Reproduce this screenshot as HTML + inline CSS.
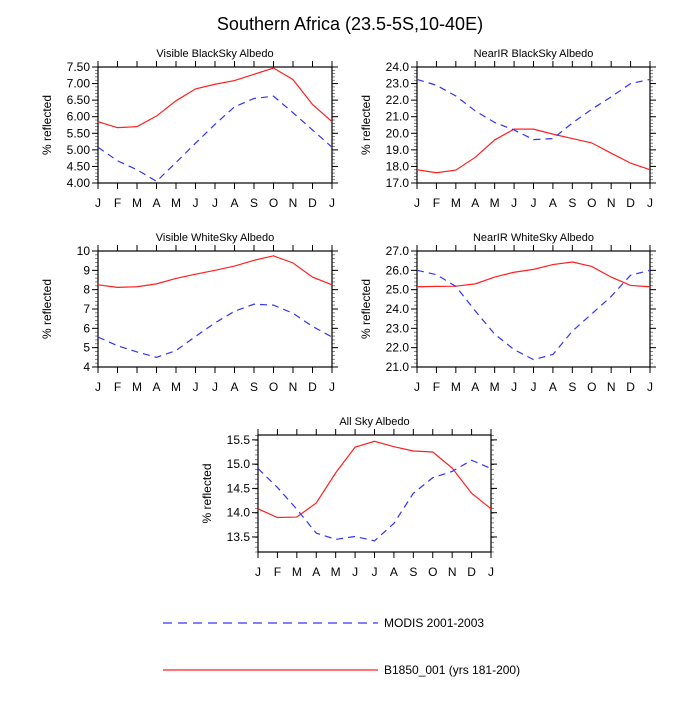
<!DOCTYPE html>
<html><head><meta charset="utf-8"><style>
body{margin:0;background:#fff;}
svg text{font-family:"Liberation Sans",sans-serif;fill:#000;}
</style></head><body>
<svg id="chart" width="700" height="700" xmlns="http://www.w3.org/2000/svg">
<text x="350" y="30" font-size="18" text-anchor="middle">Southern Africa (23.5-5S,10-40E)</text>
<g>
<line x1="163" y1="623" x2="378" y2="623" stroke="#3333ff" stroke-width="1.2" stroke-dasharray="9,6"/>
<text x="384" y="627" font-size="12">MODIS 2001-2003</text>
<line x1="163" y1="670" x2="378" y2="670" stroke="#ff2020" stroke-width="1.2"/>
<text x="384" y="674" font-size="12">B1850_001 (yrs 181-200)</text>
</g>
</svg>
<script>
const months = ["J","F","M","A","M","J","J","A","S","O","N","D","J"];
const titles = ["Visible BlackSky Albedo","NearIR BlackSky Albedo","Visible WhiteSky Albedo","NearIR WhiteSky Albedo","All Sky Albedo"];
const modelVisBlack = [5.85,5.67,5.7,6.02,6.48,6.84,6.98,7.09,7.28,7.47,7.12,6.37,5.85];
const modisVisBlack = [5.08,4.67,4.4,4.05,4.62,5.2,5.77,6.3,6.55,6.62,6.12,5.6,5.08];
const modelNirBlack = [17.8,17.62,17.78,18.55,19.6,20.25,20.25,19.95,19.68,19.42,18.8,18.2,17.8];
const modisNirBlack = [23.25,22.9,22.25,21.35,20.65,20.2,19.62,19.68,20.62,21.45,22.2,23.0,23.25];
const modelVisWhite = [8.25,8.12,8.15,8.3,8.58,8.8,9.0,9.22,9.52,9.75,9.38,8.65,8.25];
const modisVisWhite = [5.55,5.1,4.78,4.5,4.85,5.58,6.28,6.88,7.25,7.2,6.78,6.1,5.55];
const modelNirWhite = [25.15,25.17,25.18,25.3,25.65,25.9,26.05,26.3,26.43,26.2,25.65,25.22,25.15];
const modisNirWhite = [26.0,25.78,25.17,23.9,22.7,21.9,21.38,21.65,22.85,23.75,24.65,25.75,26.0];
const modelAllSky = [14.08,13.9,13.91,14.2,14.82,15.35,15.47,15.36,15.27,15.25,14.92,14.4,14.08];
const modisAllSky = [14.91,14.52,14.07,13.58,13.45,13.51,13.42,13.78,14.4,14.72,14.85,15.08,14.91];
const ticks1 = ["4.00","4.50","5.00","5.50","6.00","6.50","7.00","7.50"];
const ticks2 = ["17.0","18.0","19.0","20.0","21.0","22.0","23.0","24.0"];
const ticks3 = ["4","5","6","7","8","9","10"];
const ticks4 = ["21.0","22.0","23.0","24.0","25.0","26.0","27.0"];
const ticks5 = ["13.5","14.0","14.5","15.0","15.5"];

const NS="http://www.w3.org/2000/svg";
const svg=document.getElementById('chart');
function mk(tag,attrs,parent){const e=document.createElementNS(NS,tag);for(const k in attrs)e.setAttribute(k,attrs[k]);(parent||svg).appendChild(e);return e;}

function panel(idx,x0,y0,x1,y1,ymin,ymax,ticks,minorStep,model,modis,key){
  const g=mk('g',{});
  
  
  const xs=i=>x0+(x1-x0)*i/12;
  const ys=v=>y1-(y1-y0)*(v-ymin)/(ymax-ymin);
  const t=mk('text',{x:(x0+x1)/2,y:y0-10,'font-size':11,'text-anchor':'middle'},g);t.textContent=titles[idx];
  
  
  const yt=mk('text',{x:0,y:0,'font-size':12,'text-anchor':'middle',transform:`translate(${x0-47},${(y0+y1)/2}) rotate(-90)`},g);yt.textContent="% reflected";
  
  
  months.forEach((m,i)=>{
    const x=xs(i);
    mk('line',{x1:x,y1:y0,x2:x,y2:y0-6,stroke:'#000'},g);
    mk('line',{x1:x,y1:y1,x2:x,y2:y1+6,stroke:'#000'},g);
    const l=mk('text',{x:x,y:y1+24,'font-size':12,'text-anchor':'middle'},g);l.textContent=m;
    
    
  });
  for(let v=ymin;v<=ymax+1e-9;v+=minorStep){
    const y=ys(v);
    mk('line',{x1:x0,y1:y,x2:x0-3,y2:y,stroke:'#555','stroke-width':0.7},g);
    mk('line',{x1:x1,y1:y,x2:x1+3,y2:y,stroke:'#555','stroke-width':0.7},g);
  }
  ticks.forEach(s=>{
    const v=parseFloat(s),y=ys(v);
    mk('line',{x1:x0,y1:y,x2:x0-6,y2:y,stroke:'#000'},g);
    mk('line',{x1:x1,y1:y,x2:x1+6,y2:y,stroke:'#000'},g);
    const l=mk('text',{x:x0-8,y:y+4,'font-size':12,'text-anchor':'end'},g);l.textContent=s;
    
    
  });
  mk('rect',{x:x0,y:y0,width:x1-x0,height:y1-y0,fill:'none',stroke:'#000','stroke-width':1.2},g);
  const pm=mk('polyline',{points:model.map((v,i)=>xs(i)+','+ys(v)).join(' '),fill:'none',stroke:'#ff2020','stroke-width':1.2},g);
  
  
  const pd=mk('polyline',{points:modis.map((v,i)=>xs(i)+','+ys(v)).join(' '),fill:'none',stroke:'#3333ff','stroke-width':1.2,'stroke-dasharray':'7,5'},g);
  
  
}
panel(0,98,67,332,183,4.0,7.5,ticks1,0.1,modelVisBlack,modisVisBlack,'vis-black');
panel(1,417,67,650,183,17,24,ticks2,0.2,modelNirBlack,modisNirBlack,'nir-black');
panel(2,98,251,332,367,4,10,ticks3,0.2,modelVisWhite,modisVisWhite,'vis-white');
panel(3,417,251,650,367,21,27,ticks4,0.2,modelNirWhite,modisNirWhite,'nir-white');
panel(4,258,435,491,552,13.19,15.6,ticks5,0.1,modelAllSky,modisAllSky,'all-sky');
</script>
</body></html>
